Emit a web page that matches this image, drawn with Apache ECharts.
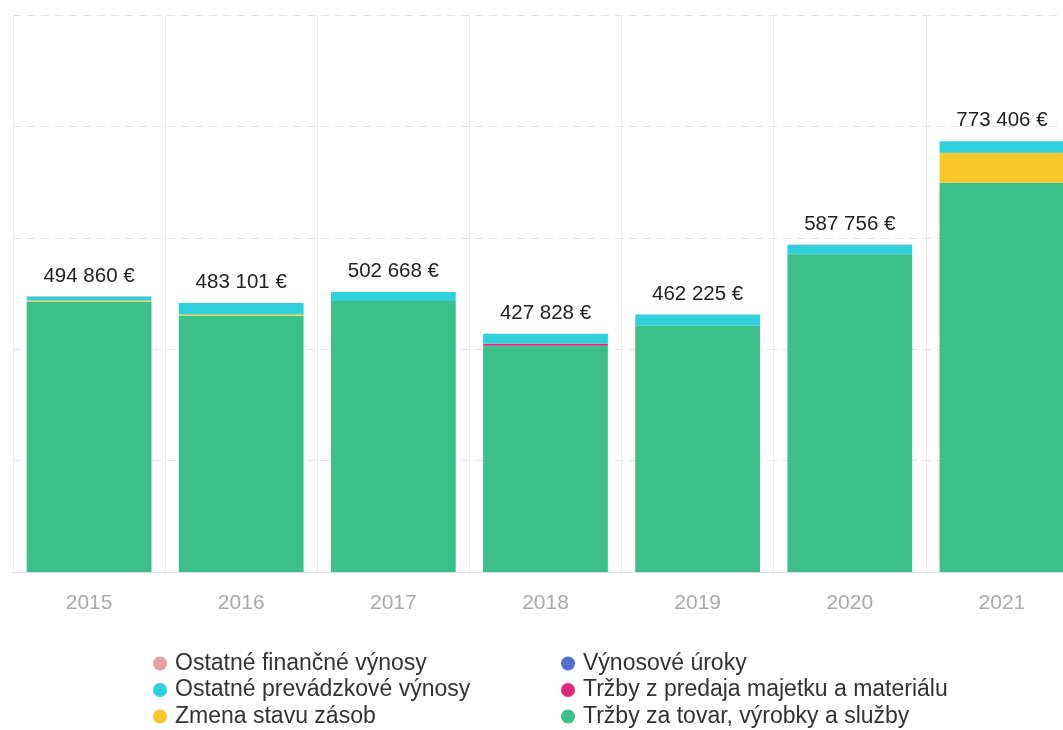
<!DOCTYPE html>
<html>
<head>
<meta charset="utf-8">
<script src="https://cdn.jsdelivr.net/npm/echarts@6/dist/echarts.min.js"></script>
<style>
  html, body { margin: 0; padding: 0; background: #fff; overflow: hidden; }
  #main { width: 1078px; height: 730px; }
</style>
</head>
<body>
<div id="main"></div>
<script>
  var years = ['2015', '2016', '2017', '2018', '2019', '2020', '2021'];

  // stack from bottom to top
  var trzbyTovar    = [485300, 459961, 486388, 406308, 442605, 570656, 698616];
  var trzbyMajetok  = [0, 0, 0, 3000, 0, 0, 0];
  var vynosoveUroky = [60, 40, 30, 800, 20, 10, 10];
  var zmenaZasob    = [2200, 2500, 0, 0, 0, 0, 53900];
  var ostPrevadzkove = [7000, 20400, 16100, 17600, 19500, 17000, 20800];
  var ostFinancne   = [300, 200, 150, 120, 100, 90, 80];

  var totals = [494860, 483101, 502668, 427828, 462225, 587756, 773406];

  var myChart = echarts.init(document.getElementById('main'));

  function fmtEur(v) {
    return String(v).replace(/\B(?=(\d{3})+(?!\d))/g, ' ') + ' €';
  }

  function bar(name, data, color) {
    return {
      name: name,
      type: 'bar',
      stack: 'total',
      data: data,
      barCategoryGap: '18%',
      itemStyle: { color: color },
      emphasis: { disabled: true }
    };
  }

  var series = [
    bar('Tržby za tovar, výrobky a služby', trzbyTovar, '#3dbf89'),
    bar('Tržby z predaja majetku a materiálu', trzbyMajetok, '#dc2a7a'),
    bar('Výnosové úroky', vynosoveUroky, '#5270cc'),
    bar('Zmena stavu zásob', zmenaZasob, '#fbc82c'),
    bar('Ostatné prevádzkové výnosy', ostPrevadzkove, '#2fcfdb'),
    bar('Ostatné finančné výnosy', ostFinancne, '#e6a0a6')
  ];
  series[5].label = {
    show: true,
    position: 'top',
    distance: 10,
    color: '#222',
    fontSize: 20.5,
    fontFamily: 'Liberation Sans, Arial, sans-serif',
    formatter: function (p) { return fmtEur(totals[p.dataIndex]); }
  };

  var legendText = {
    color: '#333',
    fontSize: 23,
    fontFamily: 'Liberation Sans, Arial, sans-serif'
  };

  var option = {
    animation: false,
    grid: { left: 13, top: 15, right: 0, bottom: 158 },
    legend: [
      {
        orient: 'vertical',
        left: 148,
        bottom: -3,
        icon: 'circle',
        itemWidth: 20,
        itemHeight: 14,
        itemGap: 3.5,
        textStyle: legendText,
        data: ['Ostatné finančné výnosy', 'Ostatné prevádzkové výnosy', 'Zmena stavu zásob']
      },
      {
        orient: 'vertical',
        left: 556,
        bottom: -3,
        icon: 'circle',
        itemWidth: 20,
        itemHeight: 14,
        itemGap: 3.5,
        textStyle: legendText,
        data: ['Výnosové úroky', 'Tržby z predaja majetku a materiálu', 'Tržby za tovar, výrobky a služby']
      }
    ],
    xAxis: {
      type: 'category',
      data: years,
      axisLine: { lineStyle: { color: '#dcdcdc' } },
      axisTick: { show: false },
      axisLabel: {
        color: '#aaa',
        fontSize: 21,
        margin: 21,
        fontFamily: 'Liberation Sans, Arial, sans-serif'
      },
      splitLine: { show: true, lineStyle: { color: '#ececec' } }
    },
    yAxis: {
      type: 'value',
      min: 0,
      max: 1000000,
      interval: 200000,
      axisLabel: { show: false },
      axisLine: { show: false },
      axisTick: { show: false },
      splitLine: { lineStyle: { color: '#e2e2e2', type: [8, 6] } }
    },
    series: series
  };

  myChart.setOption(option);
</script>
</body>
</html>
